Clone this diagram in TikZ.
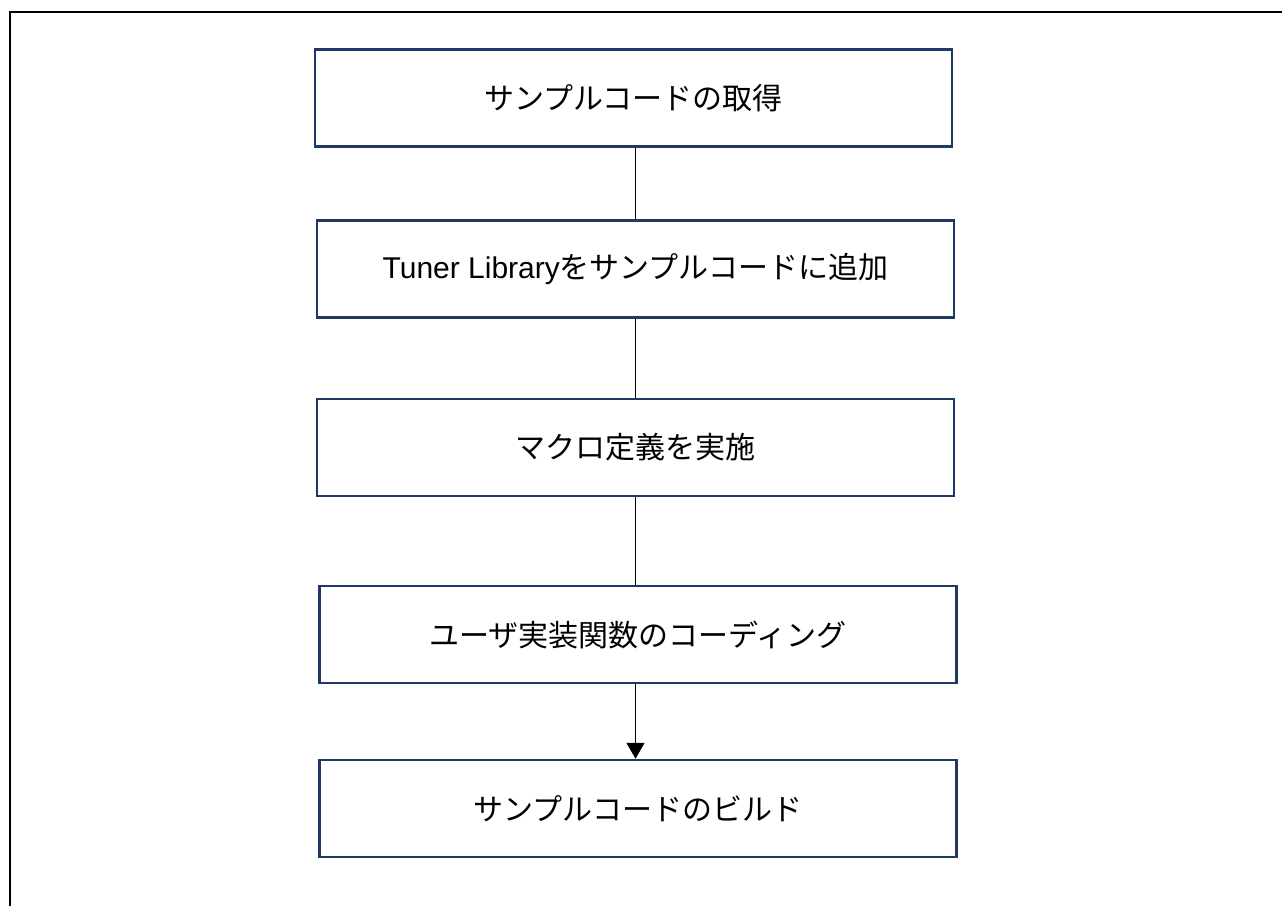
\documentclass[tikz,border=0pt]{standalone}
\usepackage{fontspec}
\setmainfont{Liberation Sans}
\newfontfamily\jpfont{Noto Sans CJK JP}
\usetikzlibrary{arrows.meta}
\definecolor{boxnavy}{RGB}{31,56,100}
\tikzset{
  stepbox/.style={draw=boxnavy,line width=2.5pt,minimum width=637pt,minimum height=97pt,
    inner sep=0pt,font=\fontsize{30}{36}\selectfont\jpfont},
  link/.style={draw=black,line width=1.3pt}
}
\begin{document}
\begin{tikzpicture}[x=1pt,y=-1pt]
\useasboundingbox (0,0) rectangle (1282,906);
% frame
\draw[line width=2pt] (10,906) -- (10,12) -- (1282,12);
% steps
\node[stepbox] (get)   at (633.5,98)  {サンプルコードの取得};
\node[stepbox] (add)   at (635.5,269) {{\rmfamily Tuner Library}をサンプルコードに追加};
\node[stepbox] (macro) at (635.5,447.5) {マクロ定義を実施};
\node[stepbox] (code)  at (638,634.5) {ユーザ実装関数のコーディング};
\node[stepbox] (build) at (638,808.5) {サンプルコードのビルド};
% connectors
\draw[link] (get.south -| add) -- (add.north);
\draw[link] (add.south) -- (macro.north);
\draw[link] (macro.south) -- (macro.south |- code.north);
\draw[link,-{Triangle[length=16pt,width=18pt]}] (macro.south |- code.south) -- (macro.south |- build.north);
\end{tikzpicture}
\end{document}
